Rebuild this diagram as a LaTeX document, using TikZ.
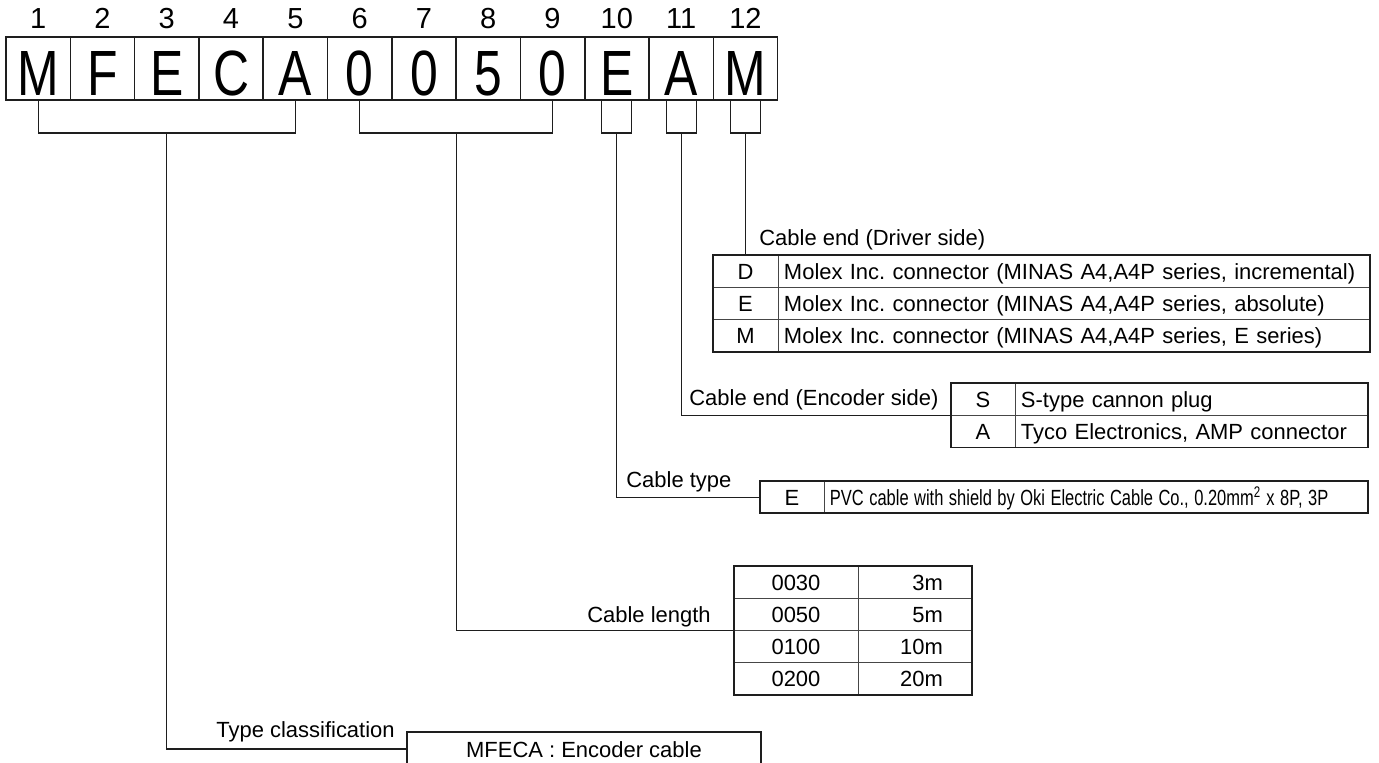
\documentclass[tikz,border=0pt]{standalone}
\usepackage{fontspec}
\setmainfont{Liberation Sans}
\usepackage{graphicx}
\usetikzlibrary{positioning,calc}
\definecolor{ink}{RGB}{30,30,30}
\definecolor{rule}{RGB}{70,70,70}
\newcommand\lblfont{\fontsize{12.5}{15}\selectfont}
\newcommand\condensed[1]{\scalebox{0.78}[1]{#1}}
\newcommand\narrowtext[1]{\scalebox{0.75}[1]{#1}}
\tikzset{
  codebox/.style={draw=ink, line width=0.9pt, outer sep=0pt, inner sep=0pt,
                  minimum width=1.286cm, minimum height=1.26cm,
                  text height=1.06cm, text depth=0pt,
                  font=\fontsize{36.4}{36.4}\selectfont},
  digit/.style={inner sep=0pt, font=\fontsize{16.5}{16.5}\selectfont},
  lbl/.style={inner sep=0pt, font=\lblfont},
  cell/.style={draw=rule, line width=0.5pt, outer sep=0pt, inner sep=0pt,
               minimum height=0.645cm, text height=0.32cm, text depth=0pt,
               font=\lblfont},
  key/.style={cell, minimum width=#1},
  desc/.style={cell, text width=#1, inner xsep=0.12cm, align=left},
  frame/.style={draw=ink, line width=1.1pt},
  wire/.style={draw=ink, line width=0.6pt},
}

\begin{document}
\frenchspacing
\begin{tikzpicture}[x=0.02cm, y=-0.02cm]
  \useasboundingbox (0,0) rectangle (1379,762);

  % code characters and their positions
  \foreach \ch [count=\i] in {M,F,E,C,A,0,0,5,0,E,A,M} {
    \node[codebox] (c\i) at ({64.3*\i-26.15},68.5) {\condensed{\ch}};
    \node[digit, above=0.16cm of c\i] (n\i) {\i};
  }

  % driver side table
  \node[key=1.3cm, anchor=north west] (dD) at (713,255) {D};
  \node[desc=11.6cm, right=0pt of dD] (dDt) {Molex Inc. connector (MINAS A4,A4P series, incremental)};
  \node[key=1.3cm, below=0pt of dD] (dE) {E};
  \node[desc=11.6cm, right=0pt of dE] (dEt) {Molex Inc. connector (MINAS A4,A4P series, absolute)};
  \node[key=1.3cm, below=0pt of dE] (dM) {M};
  \node[desc=11.6cm, right=0pt of dM] (dMt) {Molex Inc. connector (MINAS A4,A4P series, E series)};
  \draw[frame] (dD.north west) rectangle (dMt.south east);
  \node[lbl, anchor=base west] (drvlbl) at (759,245) {Cable end (Driver side)};

  % encoder side table
  \node[key=1.28cm, anchor=north west] (eS) at (951,383) {S};
  \node[desc=6.82cm, right=0pt of eS] (eSt) {S-type cannon plug};
  \node[key=1.28cm, below=0pt of eS] (eA) {A};
  \node[desc=6.82cm, right=0pt of eA] (eAt) {Tyco Electronics, AMP connector};
  \draw[frame] (eS.north west) rectangle (eAt.south east);
  \node[lbl, anchor=base west] (enclbl) at (689,405) {Cable end (Encoder side)};

  % cable type
  \node[key=1.28cm, anchor=north west] (tE) at (760,481) {E};
  \node[desc=10.64cm, right=0pt of tE] (tEt) {\narrowtext{PVC cable with shield by Oki Electric Cable Co., 0.20mm\textsuperscript{2} x 8P, 3P}};
  \draw[frame] (tE.north west) rectangle (tEt.south east);
  \node[lbl, anchor=base west] (typlbl) at (626,487) {Cable type};

  % cable length table
  \node[key=2.48cm, anchor=north west] (l30) at (734,566) {0030};
  \node[desc=1.12cm, inner xsep=0.58cm, align=right, right=0pt of l30] (m3) {3m};
  \node[key=2.48cm, below=0pt of l30] (l50) {0050};
  \node[desc=1.12cm, inner xsep=0.58cm, align=right, right=0pt of l50] (m5) {5m};
  \node[key=2.48cm, below=0pt of l50] (l100) {0100};
  \node[desc=1.12cm, inner xsep=0.58cm, align=right, right=0pt of l100] (m10) {10m};
  \node[key=2.48cm, below=0pt of l100] (l200) {0200};
  \node[desc=1.12cm, inner xsep=0.58cm, align=right, right=0pt of l200] (m20) {20m};
  \draw[frame] (l30.north west) rectangle (m20.south east);
  \node[lbl, anchor=base east] (lenlbl) at (711,622) {Cable length};

  % type classification
  \node[cell, draw=ink, line width=1.1pt, minimum width=7.08cm, minimum height=0.68cm,
        anchor=north west] (tbox) at (407,732) {MFECA : Encoder cable};
  \node[lbl, anchor=base east] (clslbl) at (395,737) {Type classification};

  % brackets and leaders
  \coordinate (k1) at ($(c1.south)!0.5!(c5.south)+(0,33)$);
  \coordinate (k2) at ($(c6.south)!0.5!(c9.south)+(0,33)$);
  \coordinate (k10) at ($(c10.south)+(0,33)$);
  \coordinate (k11) at ($(c11.south)+(0,33)$);
  \coordinate (k12) at ($(c12.south)+(0,33)$);
  \draw[wire] (c1.south) |- (k1) -| (c5.south);
  \draw[wire] (c6.south) |- (k2) -| (c9.south);
  \draw[wire] ($(c10.south)+(-15,0)$) |- (k10) -| ($(c10.south)+(15,0)$);
  \draw[wire] ($(c11.south)+(-15,0)$) |- (k11) -| ($(c11.south)+(15,0)$);
  \draw[wire] ($(c12.south)+(-15,0)$) |- (k12) -| ($(c12.south)+(15,0)$);
  \draw[wire] (k1) |- (tbox.west);
  \draw[wire] (k2) |- (l50.south west);
  \draw[wire] (k10) |- (tE.west);
  \draw[wire] (k11) |- (eS.south west);
  \draw[wire] (k12) -- (k12 |- dD.north);
\end{tikzpicture}
\end{document}
